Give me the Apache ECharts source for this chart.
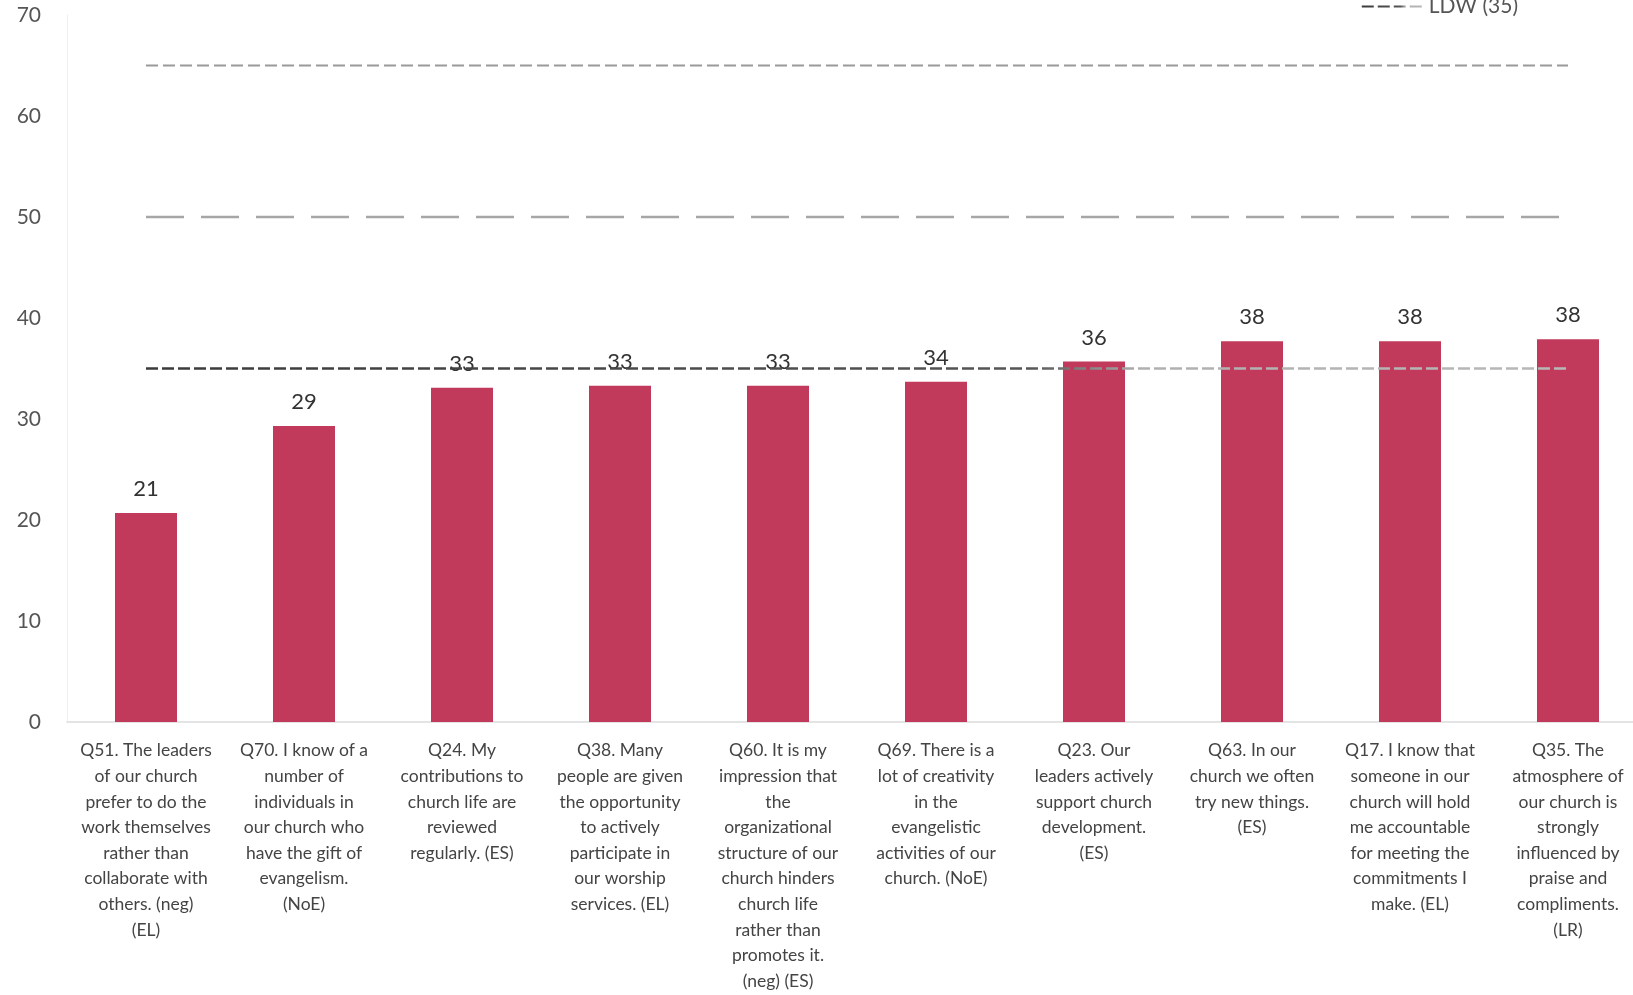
<!DOCTYPE html>
<html>
<head>
<meta charset="utf-8">
<script src="https://cdn.jsdelivr.net/npm/echarts@6/dist/echarts.min.js"></script>
<style>
html,body{margin:0;padding:0;background:#fff;overflow:hidden;}
#chart{width:1633px;height:995px;}
</style>
</head>
<body>
<div id="chart"></div>
<script>
const categories = [
  "Q51. The leaders\nof our church\nprefer to do the\nwork themselves\nrather than\ncollaborate with\nothers. (neg)\n(EL)",
  "Q70. I know of a\nnumber of\nindividuals in\nour church who\nhave the gift of\nevangelism.\n(NoE)",
  "Q24. My\ncontributions to\nchurch life are\nreviewed\nregularly. (ES)",
  "Q38. Many\npeople are given\nthe opportunity\nto actively\nparticipate in\nour worship\nservices. (EL)",
  "Q60. It is my\nimpression that\nthe\norganizational\nstructure of our\nchurch hinders\nchurch life\nrather than\npromotes it.\n(neg) (ES)",
  "Q69. There is a\nlot of creativity\nin the\nevangelistic\nactivities of our\nchurch. (NoE)",
  "Q23. Our\nleaders actively\nsupport church\ndevelopment.\n(ES)",
  "Q63. In our\nchurch we often\ntry new things.\n(ES)",
  "Q17. I know that\nsomeone in our\nchurch will hold\nme accountable\nfor meeting the\ncommitments I\nmake. (EL)",
  "Q35. The\natmosphere of\nour church is\nstrongly\ninfluenced by\npraise and\ncompliments.\n(LR)"
];
const scores = [20.7, 29.3, 33.1, 33.3, 33.3, 33.7, 35.7, 37.7, 37.7, 37.9];
const upperLine = [65, 65, 65, 65, 65, 65, 65, 65, 65, 65];
const midLine = [50, 50, 50, 50, 50, 50, 50, 50, 50, 50];
const ldwLine = [35, 35, 35, 35, 35, 35, 35, 35, 35, 35];
const yTicks = { min: 0, max: 70, interval: 10 };

const chart = echarts.init(document.getElementById('chart'));
chart.setOption({
  animation: false,
  backgroundColor: '#ffffff',
  textStyle: { fontFamily: 'Lato, "Liberation Sans", sans-serif' },
  legend: {
    data: ['LDW (35)'],
    right: 110,
    top: -9,
    itemWidth: 62,
    itemHeight: 14,
    itemStyle: { opacity: 0 },
    textStyle: { fontSize: 21, color: '#555' }
  },
  grid: { left: 67, width: 1580, top: 15, bottom: 273, containLabel: false, outerBoundsMode: 'none' },
  xAxis: {
    type: 'category',
    data: categories,
    axisLine: { show: true, lineStyle: { color: '#dcdcdc', width: 1.5 } },
    axisTick: { show: false },
    axisLabel: {
      interval: 0,
      color: '#444',
      fontSize: 17.5,
      lineHeight: 25.6,
      margin: 16,
      verticalAlign: 'top',
      align: 'center'
    }
  },
  yAxis: {
    type: 'value',
    min: yTicks.min,
    max: yTicks.max,
    interval: yTicks.interval,
    axisLine: { show: true, lineStyle: { color: '#f0f0f0' } },
    axisTick: { show: false },
    splitLine: { show: false },
    axisLabel: { color: '#555', fontSize: 21, margin: 26 }
  },
  series: [
    {
      name: 'Score',
      type: 'bar',
      data: scores,
      barWidth: 62,
      itemStyle: { color: '#c23a5b' },
      label: {
        show: true,
        position: 'top',
        distance: 13,
        fontSize: 22,
        color: '#333',
        formatter: p => Math.round(p.value)
      },
      z: 2
    },
    {
      name: 'Upper',
      type: 'line',
      data: upperLine,
      symbol: 'none',
      lineStyle: { color: '#9a9a9a', width: 2.2, type: [12, 5] },
      z: 3
    },
    {
      name: 'Mid',
      type: 'line',
      data: midLine,
      symbol: 'none',
      lineStyle: { color: '#a6a6a6', width: 2.6, type: [38, 17] },
      z: 3
    },
    {
      name: 'LDW (35)',
      type: 'line',
      data: ldwLine,
      symbol: 'none',
      lineStyle: {
        width: 2.6,
        type: [12, 4],
        color: {
          type: 'linear', x: 0, y: 0, x2: 1, y2: 0,
          colorStops: [
            { offset: 0, color: '#3a3a3a' },
            { offset: 0.62, color: '#555555' },
            { offset: 0.7, color: '#b0b0b0' },
            { offset: 1, color: '#b8b8b8' }
          ]
        }
      },
      itemStyle: { color: '#777' },
      z: 3
    }
  ]
});
</script>
</body>
</html>
